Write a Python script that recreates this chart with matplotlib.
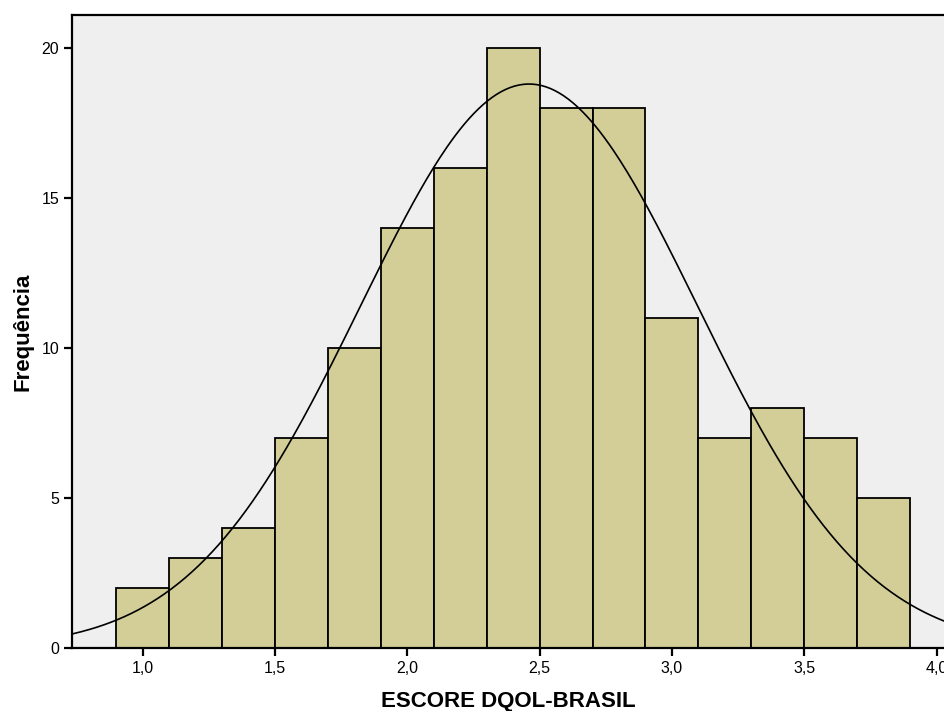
import numpy as np
import matplotlib
matplotlib.use("Agg")
import matplotlib.pyplot as plt

plt.rcParams['font.family'] = ['Liberation Sans', 'DejaVu Sans']

# Histogram data (bin edges, counts)
bin_edges = [0.9, 1.1, 1.3, 1.5, 1.7, 1.9, 2.1, 2.3, 2.5, 2.7, 2.9, 3.1, 3.3, 3.5, 3.7, 3.9]
counts = [2, 3, 4, 7, 10, 14, 16, 20, 18, 18, 11, 7, 8, 7, 5]

# Normal curve parameters
mean_score = 2.46
std_score = 0.637
n_total = sum(counts)
bin_width = 0.2

x_ticks = [1.0, 1.5, 2.0, 2.5, 3.0, 3.5, 4.0]
x_tick_labels = ["1,0", "1,5", "2,0", "2,5", "3,0", "3,5", "4,0"]
y_ticks = [0, 5, 10, 15, 20]

fig = plt.figure(figsize=(9.44, 7.11), dpi=100)
ax = fig.add_axes([0.076, 0.0882, 0.924, 0.890])
ax.set_facecolor('#efefef')

lefts = np.array(bin_edges[:-1])
widths = np.diff(bin_edges)
ax.bar(lefts, counts, width=widths, align='edge', color='#d3ce98',
       edgecolor='black', linewidth=1.3, zorder=2)

# Fitted normal curve
xs = np.linspace(0.7, 4.1, 400)
ys = n_total * bin_width / (std_score * np.sqrt(2 * np.pi)) * np.exp(-0.5 * ((xs - mean_score) / std_score) ** 2)
ax.plot(xs, ys, color='black', linewidth=1.2, zorder=3)

ax.set_xlim(0.732, 4.028)
ax.set_ylim(0, 21.07)
ax.set_xticks(x_ticks)
ax.set_xticklabels(x_tick_labels)
ax.set_yticks(y_ticks)

for side in ['left', 'bottom', 'top']:
    ax.spines[side].set_linewidth(1.6)
ax.spines['right'].set_visible(False)
ax.tick_params(direction='out', length=6, width=1.6, labelsize=11.5, pad=3)

ax.set_xlabel("ESCORE DQOL-BRASIL", fontsize=16, fontweight='bold', labelpad=11)
ax.set_ylabel("Frequência", fontsize=16, fontweight='bold', labelpad=6)

fig.savefig("out.png", dpi=100)
